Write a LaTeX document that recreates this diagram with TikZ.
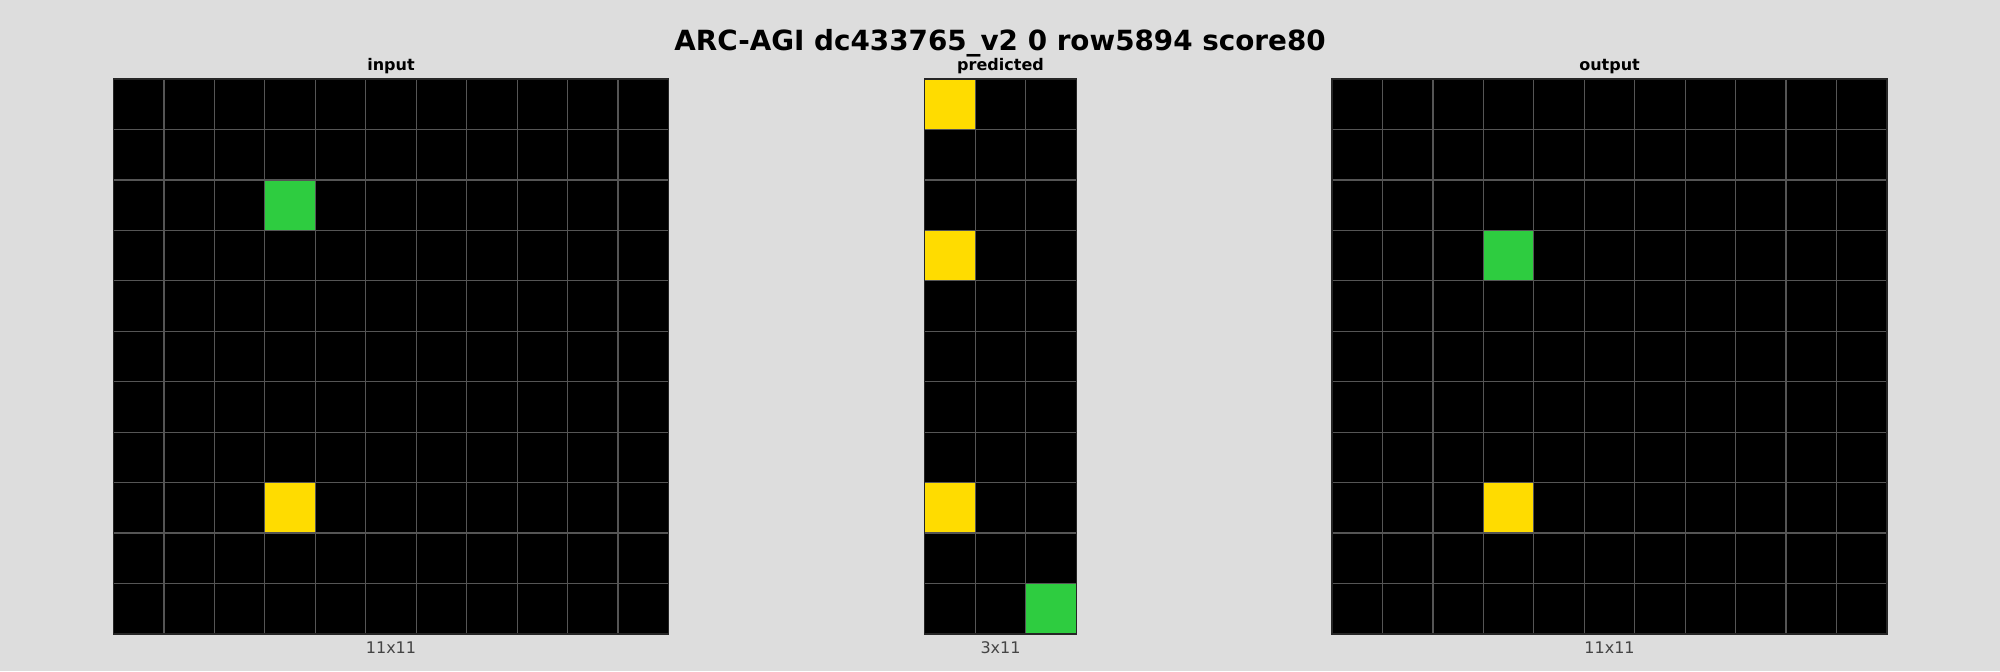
\documentclass[tikz,border=0pt]{standalone}
\usepackage{fontspec}
\setmainfont{DejaVu Sans}
\definecolor{bg}{RGB}{221,221,221}
\definecolor{gridc}{RGB}{85,85,85}
\definecolor{arcyellow}{RGB}{255,220,0}
\definecolor{arcgreen}{RGB}{46,204,64}
\definecolor{labelc}{RGB}{68,68,68}
\newcommand\arcgrid[2]{%
  \fill[black] (#1,79) rectangle ++(#2*50.45,11*50.45);}
\newcommand\arccell[4]{%
  \fill[#4] (#1+#2*50.45,79+#3*50.45) rectangle ++(50.45,50.45);}
\newcommand\arclines[2]{%
  \foreach \i in {1,...,10} {\draw[gridline] (#1,79+\i*50.45) -- ++(#2*50.45,0);}
  \foreach \j in {1,...,\numexpr#2-1\relax} {\draw[gridline] (#1+\j*50.45,79) -- ++(0,11*50.45);}
  \draw[frameline] (#1,79) rectangle ++(#2*50.45,11*50.45);}
\begin{document}
\begin{tikzpicture}[x=0.5pt,y=-0.5pt,
  gridline/.style={gridc,line width=0.6pt},
  frameline/.style={black!85,line width=0.6pt},
  paneltitle/.style={font=\bfseries\fontsize{8}{10}\selectfont,text=black},
  sizelabel/.style={font=\fontsize{8}{10}\selectfont,text=labelc}]
\fill[bg] (0,0) rectangle (2000,671);
\useasboundingbox (0,0) rectangle (2000,671);
\node[font=\bfseries\fontsize{13.9}{17}\selectfont] (title) at (1000,43) {ARC-AGI dc433765\_v2 0 row5894 score80};
% input
\arcgrid{113.5}{11}
\arccell{113.5}{3}{2}{arcgreen}
\arccell{113.5}{3}{8}{arcyellow}
\arclines{113.5}{11}
\node[paneltitle] (tin) at (391,66.5) {input};
\node[sizelabel] (lin) at (391,648) {11x11};
% predicted
\arcgrid{924.8}{3}
\arccell{924.8}{0}{0}{arcyellow}
\arccell{924.8}{0}{3}{arcyellow}
\arccell{924.8}{0}{8}{arcyellow}
\arccell{924.8}{2}{10}{arcgreen}
\arclines{924.8}{3}
\node[paneltitle] (tpr) at (1000.5,66.5) {predicted};
\node[sizelabel] (lpr) at (1000.5,648) {3x11};
% output
\arcgrid{1332}{11}
\arccell{1332}{3}{3}{arcgreen}
\arccell{1332}{3}{8}{arcyellow}
\arclines{1332}{11}
\node[paneltitle] (tout) at (1609.5,66.5) {output};
\node[sizelabel] (lout) at (1609.5,648) {11x11};
\end{tikzpicture}
\end{document}
